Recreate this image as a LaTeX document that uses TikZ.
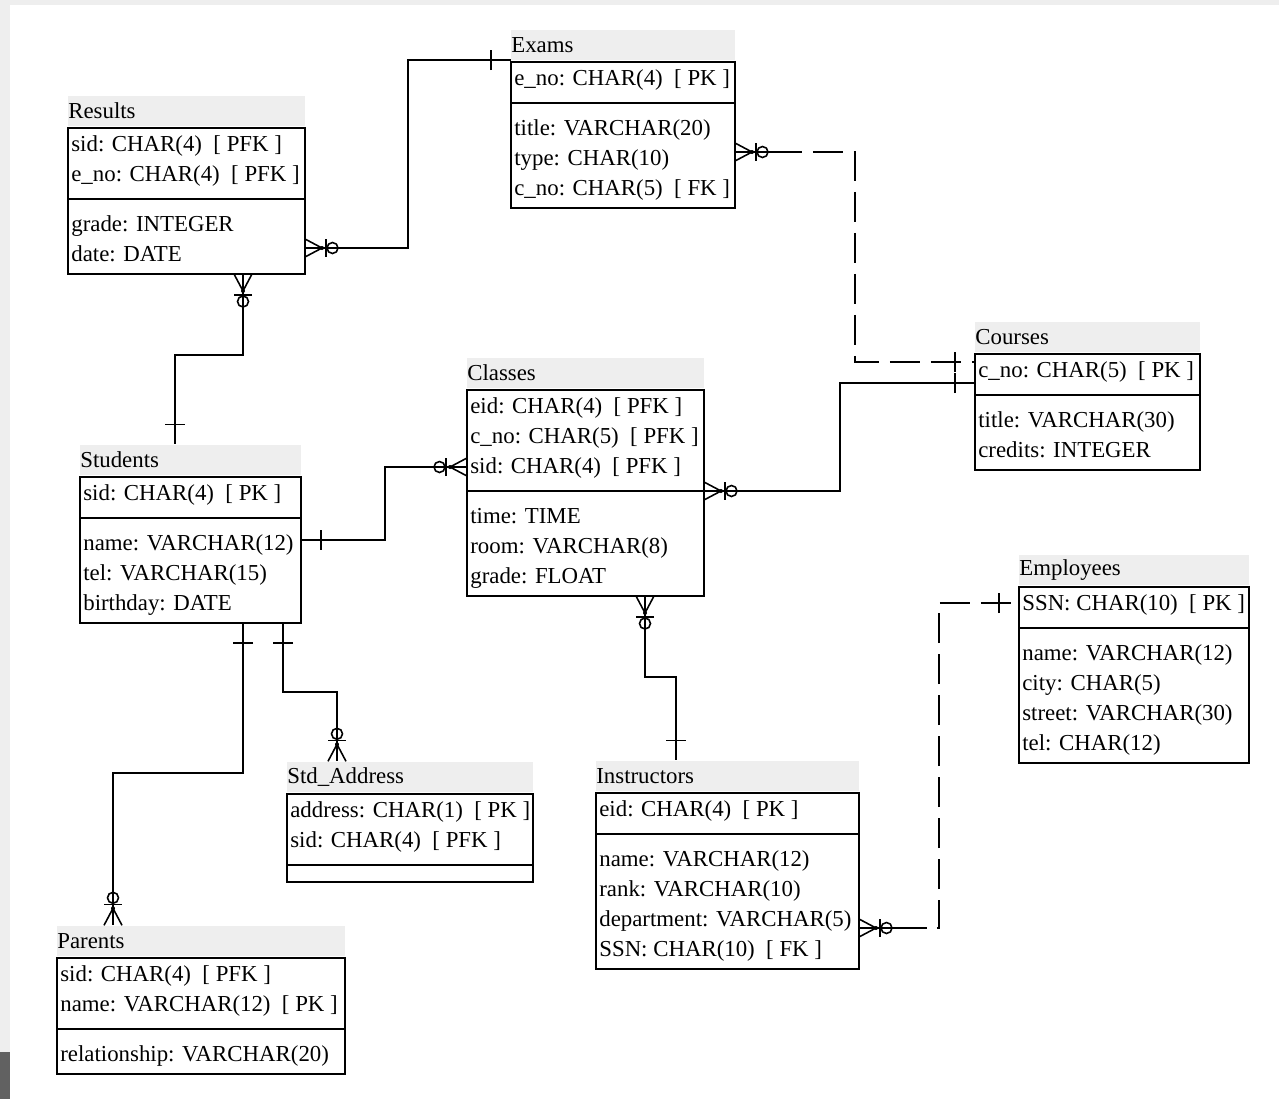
\documentclass[tikz,border=0pt]{standalone}
\usepackage{fontspec}
\setmainfont{Liberation Serif}
\usetikzlibrary{calc}

\newcommand{\erfont}{\fontsize{13pt}{15pt}\selectfont}

% crow's foot ends
\tikzset{
  zmany/.pic={
    \draw[line width=0.9pt] (0,-9) -- (17,0) -- (0,9);
    \fill (17,0) circle (2);
    \draw[line width=0.9pt] (21,-9) -- (21,9);
    \draw[line width=0.9pt] (27.5,0) circle (5.5);
  },
  onebar/.pic={\draw[line width=0.9pt] (20,-10) -- (20,10);}
}

% #1 name, #2 left, #3 top, #4 width, #5 title, #6 no. of keys, #7 keys, #8 no. of attributes, #9 attributes
\newcommand{\entity}[9]{%
  \pgfmathsetmacro{\divy}{#3+17+30*(#6-1)+24}
  \pgfmathsetmacro{\boty}{#8>0 ? \divy+26+30*(#8-1)+19 : \divy+17}
  \pgfmathsetmacro{\wcm}{#4*0.02}
  \pgfmathsetmacro{\hcm}{(\boty-#3)*0.02}
  \node[band, text width=\wcm cm] (#1-t) at (#2,#3-2) {#5};
  \node[tbox, minimum width=\wcm cm, minimum height=\hcm cm] (#1) at (#2,#3) {};
  \draw[tline] (#2,\divy) -- ++(#4,0);
  \foreach \fieldtxt [count=\i] in {#7} {\node[row] at (#2+3,#3+23+30*\i-30) {\fieldtxt};}
  \ifnum#8>0
    \foreach \fieldtxt [count=\i] in {#9} {\node[row] at (#2+3,\divy+32+30*\i-30) {\fieldtxt};}
  \fi
}

\begin{document}
\begin{tikzpicture}[x=0.02cm, y=-0.02cm, font=\erfont,
    band/.style={fill=gray!13, anchor=south west, inner sep=0, minimum height=0.6cm, align=left},
    tbox/.style={draw, line width=1.1pt, anchor=north west, inner sep=0, outer sep=0},
    tline/.style={line width=1.1pt},
    row/.style={anchor=base west, inner sep=0},
    conn/.style={line width=0.9pt},
    fkconn/.style={conn, dash pattern=on 0.6cm off 0.22cm, dash phase=0.08cm}]
  % Page
  \fill[gray!13] (0,0) rectangle (1279,1099);
  \fill[white] (10,5) rectangle (1279,1099);
  \fill[black!62] (0,1052) rectangle (10,1099);
  \useasboundingbox (0,0) rectangle (1279,1099);

  % Tables
  \entity{results}{68}{128}{237}{Results}{2}{{sid: CHAR(4)\ \ [ PFK ]},{e\_no: CHAR(4)\ \ [ PFK ]}}{2}{{grade: INTEGER},{date: DATE}}
  \entity{exams}{511}{62}{224}{Exams}{1}{{e\_no: CHAR(4)\ \ [ PK ]}}{3}{{title: VARCHAR(20)},{type: CHAR(10)},{c\_no: CHAR(5)\ \ [ FK ]}}
  \entity{courses}{975}{354}{225}{Courses}{1}{{c\_no: CHAR(5)\ \ [ PK ]}}{2}{{title: VARCHAR(30)},{credits: INTEGER}}
  \entity{students}{80}{477}{221}{Students}{1}{{sid: CHAR(4)\ \ [ PK ]}}{3}{{name: VARCHAR(12)},{tel: VARCHAR(15)},{birthday: DATE}}
  \entity{classes}{467}{390}{237}{Classes}{3}{{eid: CHAR(4)\ \ [ PFK ]},{c\_no: CHAR(5)\ \ [ PFK ]},{sid: CHAR(4)\ \ [ PFK ]}}{3}{{time: TIME},{room: VARCHAR(8)},{grade: FLOAT}}
  \entity{instructors}{596}{793}{263}{Instructors}{1}{{eid: CHAR(4)\ \ [ PK ]}}{4}{{name: VARCHAR(12)},{rank: VARCHAR(10)},{department: VARCHAR(5)},{SSN: CHAR(10)\ \ [ FK ]}}
  \entity{employees}{1019}{587}{230}{Employees}{1}{{SSN: CHAR(10)\ \ [ PK ]}}{4}{{name: VARCHAR(12)},{city: CHAR(5)},{street: VARCHAR(30)},{tel: CHAR(12)}}
  \entity{address}{287}{794}{246}{Std\_Address}{2}{{address: CHAR(1)\ \ [ PK ]},{sid: CHAR(4)\ \ [ PFK ]}}{0}{}
  \entity{parents}{57}{958}{288}{Parents}{2}{{sid: CHAR(4)\ \ [ PFK ]},{name: VARCHAR(12)\ \ [ PK ]}}{1}{{relationship: VARCHAR(20)}}

  % Bends
  \coordinate (re1) at (408,248);  \coordinate (re2) at (408,60);
  \coordinate (rs1) at (243,355);  \coordinate (rs2) at (175,355);
  \coordinate (sc1) at (385,540);  \coordinate (sc2) at (385,467);
  \coordinate (cc1) at (840,491);  \coordinate (cc2) at (840,383);
  \coordinate (ec1) at (855,152);  \coordinate (ec2) at (855,362);
  \coordinate (ci1) at (645,677);  \coordinate (ci2) at (676,677);
  \coordinate (ie1) at (939,928);  \coordinate (ie2) at (939,603);
  \coordinate (sp1) at (243,773);  \coordinate (sp2) at (113,773);
  \coordinate (sa1) at (283,692);  \coordinate (sa2) at (337,692);

  % Relationships
  \draw[conn] (results.east |- re1) -- (re1) -- (re2) -- (exams-t.south west);
  \draw[conn] (rs1 |- results.south) -- (rs1) -- (rs2) -- (rs2 |- students-t.north);
  \draw[conn] (students.east |- sc1) -- (sc1) -- (sc2) -- (classes.west |- sc2);
  \draw[conn] (classes.east |- cc1) -- (cc1) -- (cc2) -- (courses.west |- cc2);
  \draw[fkconn] (exams.east |- ec1) -- (ec1) -- (ec2) -- (courses.west |- ec2);
  \draw[conn] (exams.east |- ec1) -- ++(67,0);
  \draw[conn] (ci1 |- classes.south) -- (ci1) -- (ci2) -- (ci2 |- instructors-t.north);
  \draw[fkconn] (instructors.east |- ie1) -- (ie1) -- (ie2) -- (employees.west |- ie2);
  \draw[conn] (instructors.east |- ie1) -- ++(68,0);
  \draw[conn] (sp1 |- students.south) -- (sp1) -- (sp2) -- (sp2 |- parents-t.north);
  \draw[conn] (sa1 |- students.south) -- (sa1) -- (sa2) -- (sa2 |- address-t.north);

  % Ends
  \pic at (results.east |- re1) {zmany};
  \pic[rotate=180] at (exams-t.south west) {onebar};
  \pic[rotate=-90] at (rs1 |- results.south) {zmany};
  \pic[rotate=90] at (rs2 |- students-t.north) {onebar};
  \pic at (students.east |- sc1) {onebar};
  \pic[rotate=180] at (classes.west |- sc2) {zmany};
  \pic at (classes.east |- cc1) {zmany};
  \pic[rotate=180] at (courses.west |- cc2) {onebar};
  \pic at (exams.east |- ec1) {zmany};
  \pic[rotate=180] at (courses.west |- ec2) {onebar};
  \pic[rotate=-90] at (ci1 |- classes.south) {zmany};
  \pic[rotate=90] at (ci2 |- instructors-t.north) {onebar};
  \pic at (instructors.east |- ie1) {zmany};
  \pic[rotate=180] at (employees.west |- ie2) {onebar};
  \pic[rotate=-90] at (sp1 |- students.south) {onebar};
  \pic[rotate=90] at (sp2 |- parents-t.north) {zmany};
  \pic[rotate=-90] at (sa1 |- students.south) {onebar};
  \pic[rotate=90] at (sa2 |- address-t.north) {zmany};
\end{tikzpicture}
\end{document}
